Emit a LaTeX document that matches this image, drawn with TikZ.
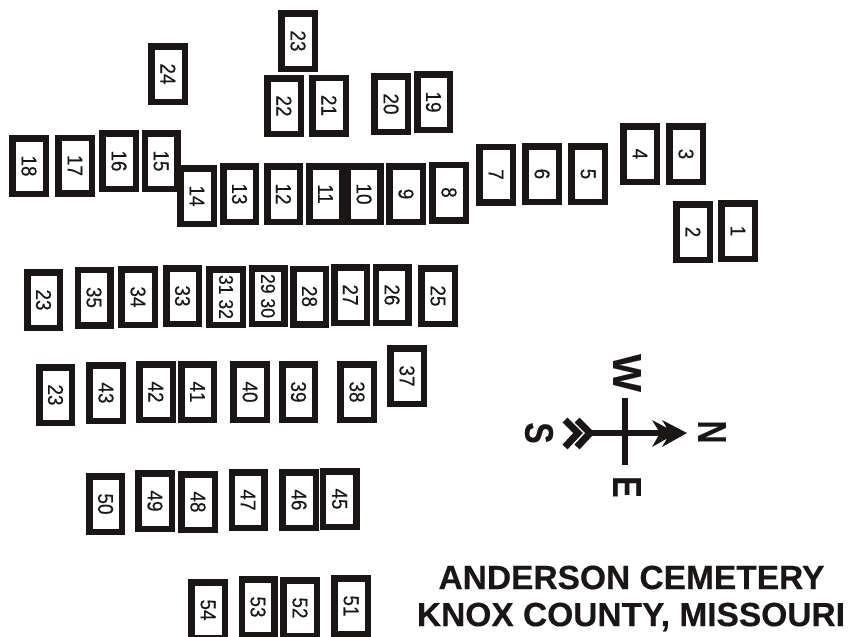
\documentclass[tikz,border=0pt]{standalone}
\usepackage{fontspec}
\setmainfont{Liberation Sans}
\newfontfamily\digitface[FakeStretch=0.88,FakeBold=0.35]{Liberation Sans}
\newfontfamily\headface[BoldFont={Liberation Sans Bold},FakeBold=0.3]{Liberation Sans Bold}
\definecolor{ink}{HTML}{1A1616}
\tikzset{
  grave/.style={draw=ink,line width=6.5pt,fill=white,rotate=-90,inner sep=0pt,minimum width=55.5pt,minimum height=33.5pt,text=ink,font=\digitface\fontsize{21.5}{22}\selectfont},
  slim/.style={grave,minimum height=32.5pt},
  small/.style={font=\digitface\fontsize{20}{20}\selectfont},
  compass/.style={rotate=-90,inner sep=0pt,text=ink,font=\headface\fontsize{40}{40}\selectfont},
  squeezed/.style={compass,xscale=.8},
  titletext/.style={inner sep=0pt,text=ink,font=\headface\fontsize{33.5}{36}\selectfont},
  axis/.style={draw=ink,line width=6pt},
  chevron/.style={draw=ink,line width=7pt,miter limit=10}
}
\begin{document}
\begin{tikzpicture}[x=1pt,y=-1pt]
\useasboundingbox (0,0) rectangle (849,637);
% top group
\node[grave] (a23) at (298,41) {23};
\node[grave] (g24) at (168,74) {24};
\node[grave] (g22) at (284,106) {22};
\node[grave] (g21) at (329,105.5) {21};
\node[grave] (g20) at (391,104) {20};
\node[slim] (g19) at (433.5,102) {19};
% first row
\node[grave] (g18) at (29,166) {18};
\node[grave] (g17) at (75,165.5) {17};
\node[grave] (g16) at (119,161) {16};
\node[slim] (g15) at (161,161) {15};
\node[grave] (g14) at (197,196) {14};
\node[slim] (g13) at (239.5,194) {13};
\node[slim] (g12) at (283.5,194) {12};
\node[slim] (g11) at (325.5,194) {11};
\node[slim] (g10) at (364,194) {10};
\node[grave] (g9) at (406,194) {9};
\node[grave] (g8) at (449,192.5) {8};
\node[grave] (g7) at (496,174.5) {7};
\node[grave] (g6) at (542,174) {6};
\node[grave] (g5) at (588,174) {5};
\node[grave] (g4) at (640,154) {4};
\node[grave] (g3) at (686,154) {3};
\node[grave] (g2) at (693,232) {2};
\node[grave] (g1) at (738,231) {1};
% second row
\node[slim] (b23) at (43.5,300) {23};
\node[slim] (g35) at (94,297.5) {35};
\node[grave] (g34) at (138,297) {34};
\node[slim] (g33) at (182.5,296) {33};
\node[grave,small] (g31) at (226,297) {31 32};
\node[slim,small] (g29) at (268,296) {29 30};
\node[slim] (g28) at (309.5,296.5) {28};
\node[slim] (g27) at (350.5,295) {27};
\node[slim] (g26) at (392,295) {26};
\node[grave] (g25) at (438,296) {25};
% third row
\node[slim] (c23) at (55.5,395) {23};
\node[grave] (g43) at (106,393) {43};
\node[grave] (g42) at (156,392) {42};
\node[slim] (g41) at (197.5,392) {41};
\node[grave] (g40) at (250,392) {40};
\node[slim] (g39) at (298.5,392) {39};
\node[grave] (g38) at (357,392) {38};
\node[grave] (g37) at (407,376) {37};
% fourth row
\node[slim] (g50) at (105.5,504) {50};
\node[grave] (g49) at (155,501) {49};
\node[grave] (g48) at (198,502) {48};
\node[slim] (g47) at (248,500) {47};
\node[grave] (g46) at (299,500) {46};
\node[grave] (g45) at (339.5,499) {45};
% fifth row
\node[grave] (g54) at (208,610) {54};
\node[slim] (g53) at (258,607) {53};
\node[grave] (g52) at (300,608) {52};
\node[grave] (g51) at (351,606) {51};
% compass
\coordinate (west) at (625,398);
\coordinate (east) at (625,465);
\coordinate (south) at (590,433);
\coordinate (north) at (668,433);
\draw[axis] (west) -- (east);
\draw[axis] (south) -- (north);
\fill[ink] (687,433) -- (662,420) -- (667,428) -- (652,420) -- (660,433) -- (652,447) -- (667,438.5) -- (662,447) -- cycle;
\draw[chevron] (565,420) -- (578,433) -- (565,447);
\draw[chevron] (577,420) -- (590,433) -- (577,447);
\node[compass] (lw) at (627,373) {W};
\node[squeezed] (le) at (627,487) {E};
\node[squeezed] (ls) at (539,433) {S};
\node[squeezed] (ln) at (712,432) {N};
% title
\node[titletext] (t1) at (631.5,577.5) {ANDERSON CEMETERY};
\node[titletext] (t2) at (631,617) {KNOX COUNTY, MISSOURI};
\end{tikzpicture}
\end{document}
